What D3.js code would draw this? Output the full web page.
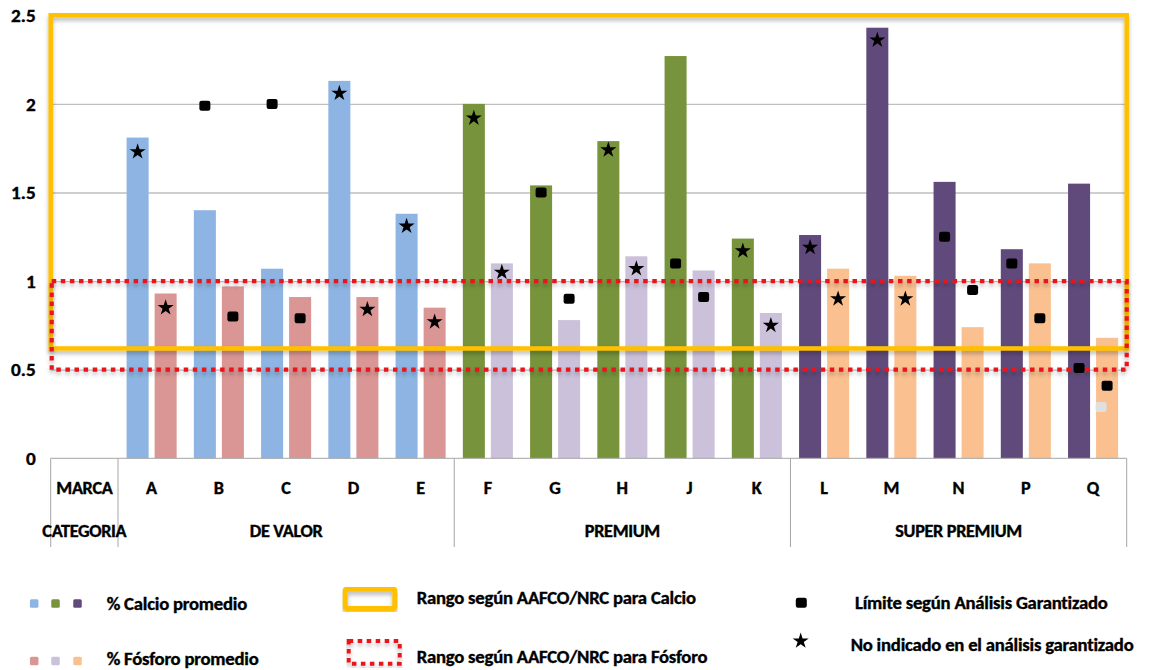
<!DOCTYPE html>
<html lang="es">
<head>
<meta charset="utf-8">
<script src="https://cdn.jsdelivr.net/npm/d3@7"></script>
<style>
  html, body { margin: 0; padding: 0; background: #fff; }
  svg { display: block; }
  text { font-family: Carlito, Lato, "Open Sans", sans-serif; font-weight: 700; fill: #000;
         stroke: #000; stroke-width: 0.35px; }
</style>
</head>
<body>
<svg id="chart" width="1149" height="670"></svg>
<script>
// Marcas, agrupadas por categoría
const brands = ["A", "B", "C", "D", "E", "F", "G", "H", "J", "K", "L", "M", "N", "P", "Q"];
const categories = ["DE VALOR", "PREMIUM", "SUPER PREMIUM"];
const categoryOf = ["DE VALOR", "DE VALOR", "DE VALOR", "DE VALOR", "DE VALOR",
  "PREMIUM", "PREMIUM", "PREMIUM", "PREMIUM", "PREMIUM",
  "SUPER PREMIUM", "SUPER PREMIUM", "SUPER PREMIUM", "SUPER PREMIUM", "SUPER PREMIUM"];

// % promedio medido
const calcio = [1.81, 1.40, 1.07, 2.13, 1.38, 2.00, 1.54, 1.79, 2.27, 1.24, 1.26, 2.43, 1.56, 1.18, 1.55];
const fosforo = [0.93, 0.97, 0.91, 0.91, 0.85, 1.10, 0.78, 1.14, 1.06, 0.82, 1.07, 1.03, 0.74, 1.10, 0.68];

// Marcadores: "sq" = límite según análisis garantizado, "star" = no indicado
const calcioMarkType = ["star", "sq", "sq", "star", "star", "star", "sq", "star", "sq", "star", "star", "star", "sq", "sq", "sq"];
const calcioMarkValue = [1.73, 1.99, 2.00, 2.06, 1.31, 1.92, 1.50, 1.74, 1.10, 1.17, 1.19, 2.36, 1.25, 1.10, 0.51];
const fosforoMarkType = ["star", "sq", "sq", "star", "star", "star", "sq", "star", "sq", "star", "star", "star", "sq", "sq", "sq"];
const fosforoMarkValue = [0.85, 0.80, 0.79, 0.84, 0.77, 1.05, 0.90, 1.07, 0.91, 0.75, 0.90, 0.90, 0.95, 0.79, 0.41];
// marcador atenuado adicional en Q (fósforo)
const fosforoFaint = [{ brand: "Q", value: 0.29 }];

// Rangos AAFCO/NRC
const rangoCalcio = [0.62, 2.5];
const rangoFosforo = [0.5, 1.0];

const yTicks = [0, 0.5, 1, 1.5, 2, 2.5];

// Colores por categoría
const colorCalcio = { "DE VALOR": "#8DB4E2", "PREMIUM": "#77933C", "SUPER PREMIUM": "#604A7B" };
const colorFosforo = { "DE VALOR": "#D99694", "PREMIUM": "#CCC1DA", "SUPER PREMIUM": "#FAC090" };

const svg = d3.select("#chart");
const defs = svg.append("defs");
defs.append("filter").attr("id", "shadow")
  .attr("x", "-5%").attr("y", "-10%").attr("width", "110%").attr("height", "125%")
  .append("feDropShadow")
  .attr("dx", 0).attr("dy", 3).attr("stdDeviation", 2)
  .attr("flood-color", "#000").attr("flood-opacity", 0.28);

// Ensancha ligeramente el texto en horizontal (tipografía de trazo ancho)
function widen(sel, factor) {
  sel.each(function () {
    const w = this.getComputedTextLength();
    d3.select(this).attr("textLength", w * factor).attr("lengthAdjust", "spacingAndGlyphs");
  });
}

// Geometría del área de trazado
const left = 50.7, right = 1126.7, labelColRight = 118;
const y0 = 458.3, yTop = 15.3;
const tableBottom = 547;
const labelRowY = 488.5, catRowY = 531.5;

const y = d3.scaleLinear().domain([0, 2.5]).range([y0, yTop]);
const x = d3.scaleBand().domain(brands).range([labelColRight, right]).padding(0);
const xInner = d3.scaleBand().domain(["ca", "p"]).range([0, x.bandwidth()])
  .paddingInner(0.214).paddingOuter(0.307);

// Líneas de cuadrícula
svg.append("g")
  .attr("transform", `translate(${left},0)`)
  .call(d3.axisLeft(y).tickValues(yTicks.filter(d => d > 0)).tickSize(-(right - left)).tickFormat(""))
  .call(g => g.select(".domain").remove())
  .call(g => g.selectAll("line").attr("stroke", "#BFBFBF").attr("stroke-width", 1.3));

// Etiquetas del eje Y
svg.append("g")
  .attr("transform", `translate(${left},0)`)
  .call(d3.axisLeft(y).tickValues(yTicks).tickSize(0).tickPadding(15).tickFormat(d => String(d)))
  .call(g => g.select(".domain").remove())
  .call(g => g.selectAll("text").attr("font-size", 17.5).attr("dy", "0.35em")
    .style("font-family", "Carlito, Lato, sans-serif").style("font-weight", 700))
  .call(g => widen(g.selectAll("text"), 1.1));

// Barras
const rows = brands.map((b, i) => ({
  brand: b, cat: categoryOf[i], ca: calcio[i], p: fosforo[i],
  caMark: { type: calcioMarkType[i], v: calcioMarkValue[i] },
  pMark: { type: fosforoMarkType[i], v: fosforoMarkValue[i] }
}));

const bars = svg.append("g");
bars.selectAll("rect.ca").data(rows).join("rect").attr("class", "ca")
  .attr("x", d => x(d.brand) + xInner("ca")).attr("width", xInner.bandwidth())
  .attr("y", d => y(d.ca)).attr("height", d => y(0) - y(d.ca))
  .attr("fill", d => colorCalcio[d.cat]);
bars.selectAll("rect.p").data(rows).join("rect").attr("class", "p")
  .attr("x", d => x(d.brand) + xInner("p")).attr("width", xInner.bandwidth())
  .attr("y", d => y(d.p)).attr("height", d => y(0) - y(d.p))
  .attr("fill", d => colorFosforo[d.cat]);

// Tabla de categorías bajo el eje
const table = svg.append("g").attr("stroke", "#A6A6A6").attr("stroke-width", 1);
table.append("line").attr("x1", left).attr("x2", right).attr("y1", y(0)).attr("y2", y(0));
const groupEdges = [left, labelColRight];
categories.forEach(c => {
  const idx = categoryOf.lastIndexOf(c);
  groupEdges.push(x(brands[idx]) + x.bandwidth());
});
table.selectAll("line.v").data(groupEdges).join("line").attr("class", "v")
  .attr("x1", d => d).attr("x2", d => d).attr("y1", y(0)).attr("y2", tableBottom);

// Letras de marca
const labelSize = 17;
svg.append("g")
  .attr("transform", `translate(0,${y(0)})`)
  .call(d3.axisBottom(x).tickSize(0).tickPadding(labelRowY - y0))
  .call(g => g.select(".domain").remove())
  .call(g => g.selectAll("text").attr("font-size", labelSize).attr("dy", "0.35em")
    .style("font-family", "Carlito, Lato, sans-serif").style("font-weight", 700))
  .call(g => widen(g.selectAll("text"), 1.07));

const tableText = svg.append("g");
tableText.append("text").attr("x", (left + labelColRight) / 2).attr("y", labelRowY).attr("dy", "0.35em")
  .attr("text-anchor", "middle").attr("font-size", labelSize).attr("letter-spacing", -0.3).text("MARCA");
tableText.append("text").attr("x", (left + labelColRight) / 2).attr("y", catRowY).attr("dy", "0.35em")
  .attr("text-anchor", "middle").attr("font-size", labelSize).attr("letter-spacing", -0.3).text("CATEGORIA");
tableText.selectAll("text.cat").data(categories).join("text").attr("class", "cat")
  .attr("x", c => {
    const first = categoryOf.indexOf(c), last = categoryOf.lastIndexOf(c);
    return (x(brands[first]) + x(brands[last]) + x.bandwidth()) / 2;
  })
  .attr("y", catRowY).attr("dy", "0.35em").attr("text-anchor", "middle")
  .attr("font-size", labelSize).attr("letter-spacing", -0.3).text(c => c);
widen(tableText.selectAll("text"), 1.07);

// Rangos AAFCO/NRC
svg.append("rect")
  .attr("x", left).attr("width", right - left)
  .attr("y", y(rangoCalcio[1])).attr("height", y(rangoCalcio[0]) - y(rangoCalcio[1]))
  .attr("fill", "none").attr("stroke", "#FFC000").attr("stroke-width", 4.5)
  .attr("filter", "url(#shadow)");
svg.append("rect")
  .attr("x", left + 1).attr("width", right - left - 1)
  .attr("y", y(rangoFosforo[1])).attr("height", y(rangoFosforo[0]) - y(rangoFosforo[1]))
  .attr("fill", "none").attr("stroke", "#E8141B").attr("stroke-width", 4.2)
  .attr("stroke-dasharray", "4.5 4.6")
  .attr("filter", "url(#shadow)");

// Marcadores
const starPath = d3.symbol(d3.symbolStar, 80)();
function drawMark(g, type, cx, cy, fill) {
  if (type === "sq") {
    g.append("rect").attr("x", cx - 5.5).attr("y", cy - 5).attr("width", 11).attr("height", 10)
      .attr("rx", 2.2).attr("fill", fill || "#000");
  } else {
    g.append("path").attr("d", starPath).attr("transform", `translate(${cx},${cy})`).attr("fill", fill || "#000");
  }
}
const marks = svg.append("g");
rows.forEach(d => {
  drawMark(marks, d.caMark.type, x(d.brand) + xInner("ca") + xInner.bandwidth() / 2, y(d.caMark.v));
  drawMark(marks, d.pMark.type, x(d.brand) + xInner("p") + xInner.bandwidth() / 2, y(d.pMark.v));
});
fosforoFaint.forEach(f => {
  drawMark(marks, "sq", x(f.brand) + xInner("p") + xInner.bandwidth() / 2 - 6, y(f.value), "#E0E0E0");
});

// Leyenda
const legend = svg.append("g");
const legSq = 8.5;
[["DE VALOR", 34.2], ["PREMIUM", 55.5], ["SUPER PREMIUM", 77.5]].forEach(([c, cx]) => {
  legend.append("rect").attr("x", cx - legSq / 2).attr("y", 603.5 - legSq / 2).attr("width", legSq).attr("height", legSq)
    .attr("rx", 1.5).attr("fill", colorCalcio[c]);
  legend.append("rect").attr("x", cx - legSq / 2).attr("y", 661 - legSq / 2).attr("width", legSq).attr("height", legSq)
    .attr("rx", 1.5).attr("fill", colorFosforo[c]);
});
legend.append("rect").attr("x", 345.2).attr("y", 589.2).attr("width", 49.6).attr("height", 19.3)
  .attr("fill", "none").attr("stroke", "#FFC000").attr("stroke-width", 5).attr("rx", 1.5)
  .attr("filter", "url(#shadow)");
legend.append("rect").attr("x", 348.7).attr("y", 641).attr("width", 51).attr("height", 22.7)
  .attr("fill", "none").attr("stroke", "#E8141B").attr("stroke-width", 4).attr("stroke-dasharray", "4.5 4.5")
  .attr("filter", "url(#shadow)");
drawMark(legend, "sq", 801.3, 602.8);
drawMark(legend, "star", 800.7, 641);

const legendLabels = [
  { text: "% Calcio promedio", x: 106.7, y: 604 },
  { text: "% Fósforo promedio", x: 106.7, y: 659.5 },
  { text: "Rango según AAFCO/NRC para Calcio", x: 416.7, y: 598.5 },
  { text: "Rango según AAFCO/NRC para Fósforo", x: 416.7, y: 657 },
  { text: "Límite según Análisis Garantizado", x: 855, y: 603.5 },
  { text: "No indicado en el análisis garantizado", x: 850.7, y: 645 }
];
const legTexts = legend.selectAll("text.leg").data(legendLabels).join("text").attr("class", "leg")
  .attr("x", d => d.x).attr("y", d => d.y).attr("dy", "0.35em")
  .attr("font-size", 17).attr("letter-spacing", -0.2).text(d => d.text);
widen(legTexts, 1.1);
</script>
</body>
</html>
